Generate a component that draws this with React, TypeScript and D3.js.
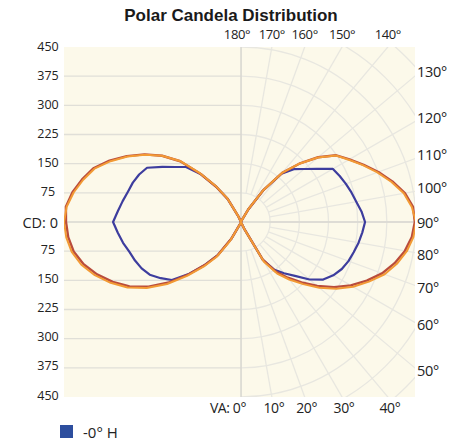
import React from "react";
import * as d3 from "d3";

// vertical angles (from nadir), 5° steps
const angles = [0, 5, 10, 15, 20, 25, 30, 35, 40, 45, 50, 55, 60, 65, 70, 75, 80, 85, 90,
  95, 100, 105, 110, 115, 120, 125, 130, 135, 140, 145, 150, 155, 160, 165, 170, 175, 180];

// right half (0° H plane)
const orangeRight = [0, 0, 0, 0, 2, 20, 118, 162, 193, 226, 263, 299, 333, 363, 393, 415, 433, 445, 450,
  441, 425, 400, 373, 346, 320, 298, 258, 212, 166, 100, 38, 6, 0, 0, 0, 0, 0];
const redRight = [0, 0, 0, 0, 2, 18, 112, 156, 187, 220, 256, 292, 326, 357, 386, 409, 428, 441, 447,
  444, 428, 403, 376, 348, 322, 299, 259, 212, 165, 99, 37, 5, 0, 0, 0, 0, 0];
const blueRight = [0, 0, 0, 0, 2, 18, 112, 150, 172, 196, 230, 258, 274, 286, 294, 300, 307, 313, 319,
  311, 301, 294, 287, 280, 273, 238, 212, 192, 162, 98, 37, 5, 0, 0, 0, 0, 0];

// left half (mirrored plane)
const orangeLeft = [0, 0, 0, 0, 2, 8, 55, 110, 150, 196, 248, 296, 337, 370, 400, 425, 442, 451, 455,
  450, 437, 420, 401, 370, 337, 302, 265, 222, 163, 112, 70, 16, 0, 0, 0, 0, 0];
const redLeft = [0, 0, 0, 0, 2, 6, 50, 104, 144, 190, 242, 290, 331, 364, 394, 419, 437, 446, 450,
  452, 440, 423, 404, 373, 339, 303, 265, 221, 161, 110, 68, 15, 0, 0, 0, 0, 0];
const blueLeft = [0, 0, 0, 0, 2, 6, 50, 104, 144, 188, 232, 252, 271, 282, 290, 297, 308, 318, 329,
  318, 309, 301, 296, 289, 279, 247, 220, 200, 160, 110, 68, 15, 0, 0, 0, 0, 0];

const cdTicks = [75, 150, 225, 300, 375, 450];
const ringValues = [75, 150, 225, 300, 375, 450, 525, 600];
const spokeAngles = [0, 10, 20, 30, 40, 50, 60, 70, 80, 90, 100, 110, 120, 130, 140, 150, 160, 170, 180];
const topLabels = [180, 170, 160, 150, 140];
const rightLabels = [130, 120, 110, 100, 90, 80, 70, 60, 50];
const bottomLabels = [0, 10, 20, 30, 40];

const W = 461;
const H = 444;
const cx = 241;
const cy = 222;
const left = 64;
const right = 415;
const top = 47;
const bottom = 397;

const font = "'Open Sans', 'Noto Sans', sans-serif";
const rad = (d: number) => (d * Math.PI) / 180;

export default function App() {
  const r = d3.scaleLinear().domain([0, 450]).range([0, 175]);

  const lineRight = d3
    .lineRadial<number>()
    .angle((_, i) => Math.PI - rad(angles[i]))
    .radius((d) => r(d));
  const lineLeft = d3
    .lineRadial<number>()
    .angle((_, i) => Math.PI + rad(angles[i]))
    .radius((d) => r(d));

  const Rt = cy - top;
  const Rb = bottom - cy;
  const Wr = right - cx;

  const series = [
    { data: blueRight, line: lineRight, color: "#3d3d9e", w: 2.2 },
    { data: blueLeft, line: lineLeft, color: "#3d3d9e", w: 2.2 },
    { data: redRight, line: lineRight, color: "#b94c3c", w: 2.4 },
    { data: redLeft, line: lineLeft, color: "#b94c3c", w: 2.4 },
    { data: orangeRight, line: lineRight, color: "#f29a35", w: 2 },
    { data: orangeLeft, line: lineLeft, color: "#f29a35", w: 2 },
  ];

  return (
    <svg width={W} height={H} style={{ position: "absolute", left: 0, top: 0 }}>
      <defs>
        <clipPath id="plot">
          <rect x={left} y={top} width={right - left} height={bottom - top} />
        </clipPath>
        <clipPath id="rightHalf">
          <rect x={cx} y={top} width={right - cx} height={bottom - top} />
        </clipPath>
      </defs>
      <rect width={W} height={H} fill="#fff" />
      <rect x={left} y={top} width={right - left} height={bottom - top} fill="#fcf9ea" />

      {/* left half: horizontal cd lines */}
      {cdTicks.slice(0, 5).map((v) => (
        <g key={v}>
          <line x1={left} x2={cx} y1={cy - r(v)} y2={cy - r(v)} stroke="#e0dfd8" strokeWidth={1.4} />
          <line x1={left} x2={cx} y1={cy + r(v)} y2={cy + r(v)} stroke="#e0dfd8" strokeWidth={1.4} />
        </g>
      ))}

      {/* right half: polar grid */}
      <g clipPath="url(#rightHalf)" fill="none" stroke="#e8e7e0" strokeWidth={1.3}>
        {ringValues.map((v) => (
          <circle key={v} cx={cx} cy={cy} r={r(v)} />
        ))}
        {spokeAngles.map((a) => (
          <line
            key={a}
            x1={cx + r(75) * Math.sin(rad(a))}
            y1={cy + r(75) * Math.cos(rad(a))}
            x2={cx + r(700) * Math.sin(rad(a))}
            y2={cy + r(700) * Math.cos(rad(a))}
          />
        ))}
      </g>

      <line x1={left} x2={right} y1={cy} y2={cy} stroke="#d8d7d0" strokeWidth={1.5} />
      <line x1={cx} x2={cx} y1={top} y2={bottom} stroke="#d8d7d0" strokeWidth={1.5} />

      <g clipPath="url(#plot)">
        <g transform={`translate(${cx},${cy})`} fill="none" strokeLinejoin="round">
          {series.map((s, i) => (
            <path key={i} d={s.line(s.data) || ""} stroke={s.color} strokeWidth={s.w} />
          ))}
        </g>
      </g>

      <text x={231} y={21} textAnchor="middle" fontFamily="'Liberation Sans', Arial, sans-serif"
        fontWeight="bold" fontSize={17} fill="#1a1a1a">
        Polar Candela Distribution
      </text>

      <g fontFamily={font} fontSize={12.5} fill="#222" textAnchor="middle" dominantBaseline="central">
        {cdTicks.map((v) => (
          <g key={v}>
            <text x={48} y={cy - r(v) - 1}>{v}</text>
            <text x={48} y={cy + r(v) - 2}>{v}</text>
          </g>
        ))}
      </g>
      <text x={58} y={cy} fontFamily={font} fontSize={14.5} fill="#222" textAnchor="end" dominantBaseline="central">
        CD: 0
      </text>

      <g fontFamily={font} fontSize={13} letterSpacing={-0.4} fill="#222" textAnchor="middle">
        {topLabels.map((a) => (
          <text key={a} x={cx + Rt * Math.tan(rad(180 - a)) - (a === 180 ? 4 : 0)} y={39}>
            {a}°
          </text>
        ))}
        {bottomLabels.map((a) =>
          a === 0 ? (
            <text key={a} x={cx + 5} y={413} textAnchor="end" fontSize={14}>VA: 0°</text>
          ) : (
            <text key={a} x={cx + Rb * Math.tan(rad(a)) + 2} y={413} fontSize={14}>{a}°</text>
          )
        )}
      </g>

      <g fontFamily={font} fontSize={14.5} letterSpacing={-0.3} fill="#222" dominantBaseline="central">
        {rightLabels.map((a) => (
          <text key={a} x={417} y={cy + (Wr * Math.cos(rad(a))) / Math.sin(rad(a)) - (a > 90 ? 4 : 0) + (a < 90 ? 2 : 0)}>
            {a}°
          </text>
        ))}
      </g>

      <rect x={60} y={425} width={13} height={13} fill="#2d4e9e" />
      <text x={83} y={432} fontFamily={font} fontSize={15} fill="#222" dominantBaseline="central">
        -0° H
      </text>
    </svg>
  );
}
